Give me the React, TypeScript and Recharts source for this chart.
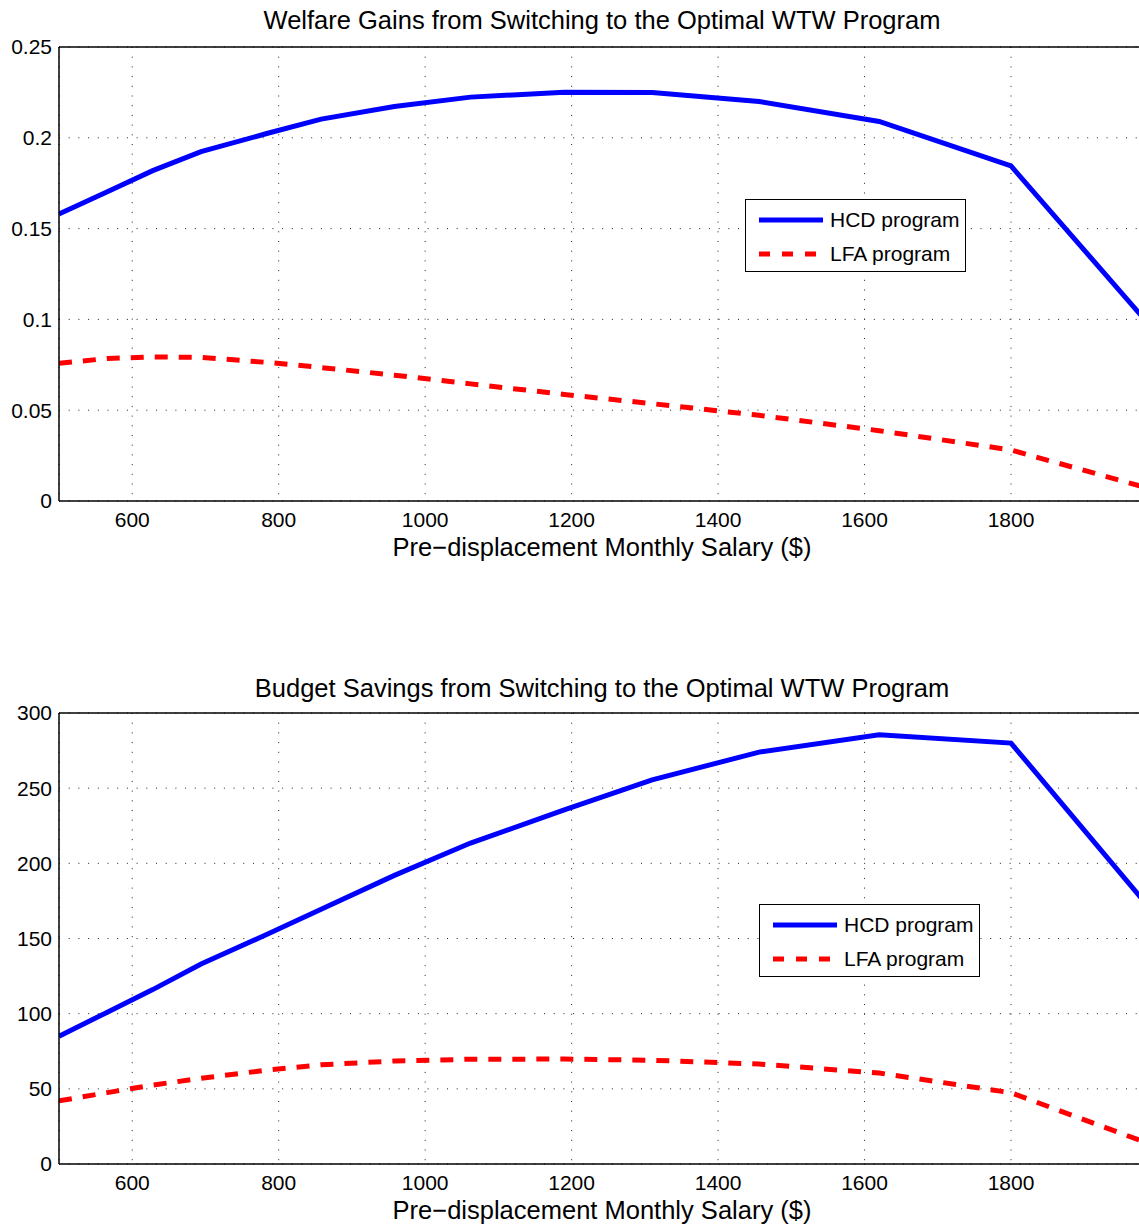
import React from "react";
import { CartesianGrid, Legend, Line, LineChart, XAxis, YAxis } from "recharts";

const SALARY = [500, 566, 628, 694, 785, 858, 958, 1062, 1190, 1310, 1456, 1620, 1800, 1983];
const WELFARE_HCD = [0.158, 0.1703, 0.1819, 0.1924, 0.2025, 0.2103, 0.2172, 0.2224, 0.2251, 0.2249, 0.22, 0.209, 0.1845, 0.0997];
const WELFARE_LFA = [0.0758, 0.0785, 0.0793, 0.0791, 0.0763, 0.0735, 0.0693, 0.0645, 0.0587, 0.0536, 0.0472, 0.0387, 0.0281, 0.0075];
const BUDGET_HCD = [85, 101, 116, 133, 153, 169.5, 192, 213.5, 235.5, 255.5, 274, 285.5, 280, 174];
const BUDGET_LFA = [42, 47.5, 52.5, 57, 62.5, 66, 68.5, 69.7, 69.8, 69, 66.5, 60.5, 47.4, 14.5];

const X_TICKS = [600, 800, 1000, 1200, 1400, 1600, 1800];
const X_DOMAIN = [500, 1983];
const WELFARE_TICKS = [0, 0.05, 0.1, 0.15, 0.2, 0.25];
const BUDGET_TICKS = [0, 50, 100, 150, 200, 250, 300];

const X_LABEL = "Pre\u2212displacement Monthly Salary ($)";
const FONT = '"Liberation Sans", Arial, Helvetica, sans-serif';

const SERIES = [
  { key: "hcd", name: "HCD program", color: "#0000ff", dash: undefined },
  { key: "lfa", name: "LFA program", color: "#ff0000", dash: "13 11" },
];

const toRows = (hcd: number[], lfa: number[]) =>
  SALARY.map((x, i) => ({ x, hcd: hcd[i], lfa: lfa[i] }));

function LegendBox() {
  return (
    <div
      style={{
        width: 219,
        height: 71,
        border: "1.5px solid #000",
        background: "#fff",
        fontFamily: FONT,
        fontSize: 21,
        color: "#000",
        boxSizing: "content-box",
      }}
    >
      {SERIES.map((s, i) => (
        <div key={s.key} style={{ display: "flex", alignItems: "center", height: 34, marginTop: i === 0 ? 3 : 0 }}>
          <svg width={84} height={10} style={{ display: "block" }}>
            <line x1={13} y1={5} x2={77} y2={5} stroke={s.color} strokeWidth={5} strokeDasharray={s.dash ? "11 12" : undefined} />
          </svg>
          <span>{s.name}</span>
        </div>
      ))}
    </div>
  );
}

const textBlock = (top: number): React.CSSProperties => ({
  position: "absolute",
  left: 0,
  width: 1204,
  top,
  textAlign: "center",
  fontFamily: FONT,
  fontSize: 25.5,
  lineHeight: "26px",
  color: "#000",
  whiteSpace: "nowrap",
});

function Panel({
  top,
  height,
  marginTop,
  xHeight,
  title,
  titleTop,
  labelTop,
  rows,
  yTicks,
  legendLeft,
  legendTop,
}: {
  top: number;
  height: number;
  marginTop: number;
  xHeight: number;
  title: string;
  titleTop: number;
  labelTop: number;
  rows: { x: number; hcd: number; lfa: number }[];
  yTicks: number[];
  legendLeft: number;
  legendTop: number;
}) {
  const yDomain = [yTicks[0], yTicks[yTicks.length - 1]];
  const tickFont = { fontSize: 21, fill: "#000", fontFamily: FONT };
  return (
    <>
      <div style={textBlock(titleTop)}>{title}</div>
      <div style={{ position: "absolute", left: 0, top }}>
        <LineChart width={1160} height={height} data={rows} margin={{ top: marginTop, right: 15, bottom: 0, left: 0 }}>
          <CartesianGrid stroke="#222" strokeDasharray="1 8.7" strokeWidth={1} />
          <XAxis
            dataKey="x"
            type="number"
            domain={X_DOMAIN}
            ticks={X_TICKS}
            allowDataOverflow
            height={xHeight}
            tickSize={0}
            tickMargin={11}
            tick={tickFont}
            axisLine={{ stroke: "#000", strokeWidth: 1.5 }}
            tickLine={false}
          />
          <XAxis
            xAxisId="bi"
            type="number"
            domain={X_DOMAIN}
            ticks={X_TICKS}
            allowDataOverflow
            mirror
            tick={false}
            tickSize={11}
            axisLine={false}
            tickLine={{ stroke: "#000" }}
          />
          <XAxis
            xAxisId="ti"
            orientation="top"
            type="number"
            domain={X_DOMAIN}
            ticks={X_TICKS}
            allowDataOverflow
            mirror
            tick={false}
            tickSize={11}
            axisLine={{ stroke: "#000", strokeWidth: 1.5 }}
            tickLine={{ stroke: "#000" }}
          />
          <YAxis
            type="number"
            domain={yDomain}
            ticks={yTicks}
            width={59}
            tickSize={0}
            tickMargin={7}
            tick={tickFont}
            axisLine={{ stroke: "#000", strokeWidth: 1.5 }}
            tickLine={false}
          />
          <YAxis
            yAxisId="li"
            type="number"
            domain={yDomain}
            ticks={yTicks}
            mirror
            tick={false}
            tickSize={11}
            axisLine={false}
            tickLine={{ stroke: "#000" }}
          />
          <YAxis
            yAxisId="ri"
            orientation="right"
            type="number"
            domain={yDomain}
            ticks={yTicks}
            mirror
            tick={false}
            tickSize={11}
            axisLine={{ stroke: "#000", strokeWidth: 1.5 }}
            tickLine={{ stroke: "#000" }}
          />
          {SERIES.map((s) => (
            <Line
              key={s.key}
              dataKey={s.key}
              name={s.name}
              type="linear"
              stroke={s.color}
              strokeWidth={5}
              strokeDasharray={s.dash}
              dot={false}
              isAnimationActive={false}
            />
          ))}
          <Legend
            layout="vertical"
            align="center"
            verticalAlign="middle"
            content={() => <LegendBox />}
            wrapperStyle={{ left: legendLeft, top: legendTop, width: "auto" }}
          />
        </LineChart>
      </div>
      <div style={textBlock(labelTop)}>{X_LABEL}</div>
    </>
  );
}

export default function App() {
  return (
    <div
      style={{
        position: "absolute",
        left: 0,
        top: 0,
        width: 1139,
        height: 1229,
        overflow: "hidden",
        background: "#fff",
      }}
    >
      <Panel
        top={0}
        height={570}
        marginTop={47}
        xHeight={69}
        title="Welfare Gains from Switching to the Optimal WTW Program"
        titleTop={7}
        labelTop={534}
        rows={toRows(WELFARE_HCD, WELFARE_LFA)}
        yTicks={WELFARE_TICKS}
        legendLeft={745}
        legendTop={199}
      />
      <Panel
        top={640}
        height={589}
        marginTop={73}
        xHeight={65}
        title="Budget Savings from Switching to the Optimal WTW Program"
        titleTop={675}
        labelTop={1197}
        rows={toRows(BUDGET_HCD, BUDGET_LFA)}
        yTicks={BUDGET_TICKS}
        legendLeft={759}
        legendTop={264}
      />
    </div>
  );
}
